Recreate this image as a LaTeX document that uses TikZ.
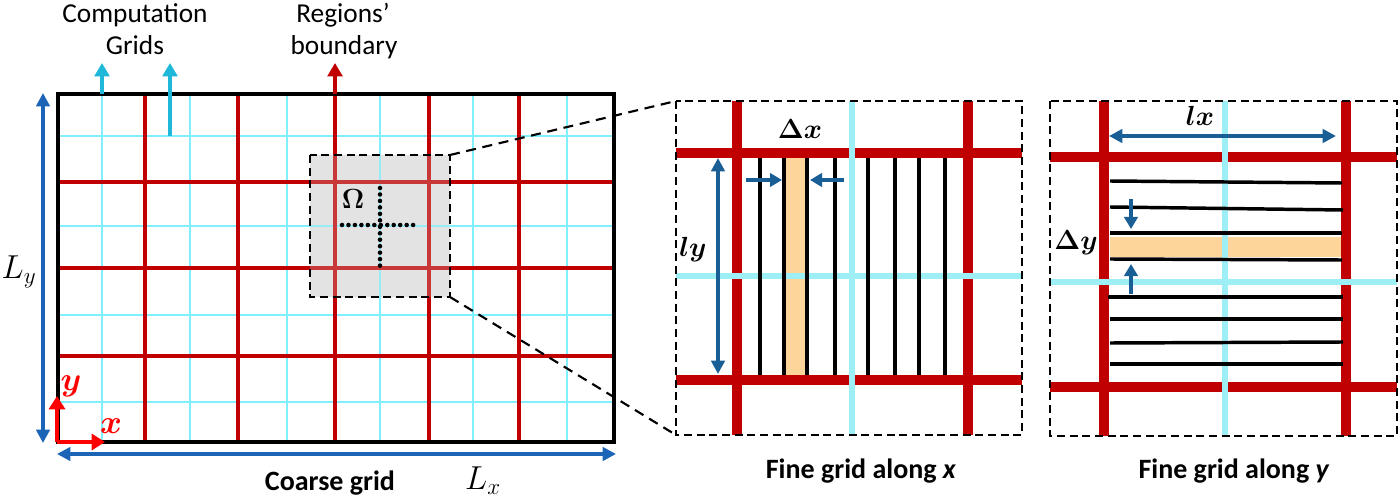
\documentclass[tikz,border=0pt]{standalone}
\usepackage{amsmath,bm}
\usepackage[no-math]{fontspec}
\setmainfont{Carlito}
\usetikzlibrary{arrows.meta}
\definecolor{cred}{HTML}{C00000}
\definecolor{ccyan}{HTML}{80F0FF}
\definecolor{fcyanc}{HTML}{9EEEF6}
\definecolor{darkcyan}{HTML}{1FB8D8}
\definecolor{lblue}{HTML}{1B64B6}
\definecolor{dblue}{HTML}{1A5E96}
\definecolor{orng}{HTML}{FDD59A}
\definecolor{axred}{HTML}{FF0000}
\definecolor{greybox}{HTML}{E3E3E3}
\begin{document}
\begin{tikzpicture}[x=0.75pt,y=-0.75pt,
  redgrid/.style={draw=cred,line width=3.3pt},
  cyangrid/.style={draw=ccyan,line width=2.1pt},
  fred/.style={draw=cred,line width=8pt},
  fcyan/.style={draw=fcyanc,line width=4.8pt},
  fblack/.style={draw=black,line width=2.6pt},
  panelbox/.style={draw=black,line width=1.6pt,dash pattern=on 6pt off 3.5pt},
  zoomline/.style={draw=black,line width=1.6pt,dash pattern=on 7.5pt off 5pt},
  bigarrow/.style={draw=lblue,line width=2.6pt,{Triangle[length=10pt,width=10pt]}-{Triangle[length=10pt,width=10pt]}},
  smallarrow/.style={draw=dblue,line width=2.8pt,-{Triangle[length=9pt,width=10pt]}},
  dblarrow/.style={draw=dblue,line width=2.6pt,{Triangle[length=10pt,width=10pt]}-{Triangle[length=10pt,width=10pt]}},
  uparrow/.style={line width=2.8pt,-{Triangle[length=10pt,width=11pt]}},
  axarrow/.style={draw=axred,line width=3.4pt,-{Triangle[length=10pt,width=12pt]}},
  lbl/.style={font=\fontsize{20.5}{24}\selectfont,inner sep=0pt},
  blbl/.style={font=\fontsize{21}{24}\selectfont\bfseries,inner sep=0pt},
  mlbl/.style={font=\fontsize{23}{26}\selectfont,inner sep=0pt},
  blbm/.style={font=\fontsize{21}{24}\selectfont,inner sep=0pt}]
\useasboundingbox (0,0) rectangle (1400,499);

% ---------------- coarse grid ----------------
\fill[greybox] (310,155) rectangle (450,297);
\foreach \x in {102,190,287,380,473,567} \draw[cyangrid] (\x,94) -- (\x,442);
\foreach \y in {136,226,315,402} \draw[cyangrid] (58,\y) -- (614,\y);
\foreach \x in {145,238,335,429,519} \draw[redgrid] (\x,94) -- (\x,442);
\foreach \y in {182,268,356} \draw[redgrid] (58,\y) -- (614,\y);
\fill[greybox,opacity=0.25] (310,155) rectangle (450,297);
% dotted cross
\draw[line width=3.4pt,line cap=round,dash pattern=on 0pt off 4.85pt] (380,188) -- (380,266);
\draw[line width=3.4pt,line cap=round,dash pattern=on 0pt off 4.85pt] (342,225) -- (418,225);
\node[font=\fontsize{22}{24}\selectfont,inner sep=0pt] (omega) at (353,199) {$\boldsymbol{\Omega}$};
\draw[panelbox,line width=2pt] (310,155) rectangle (450,297);
\coordinate (zTL) at (450,155);
\coordinate (zBL) at (450,297);
% border
\draw[line width=2.7pt] (58,94) rectangle (614,442);

% top arrows
\coordinate (c1s) at (102,94); \coordinate (c1e) at (102,63);
\coordinate (c2s) at (170,136); \coordinate (c2e) at (170,63);
\coordinate (r1s) at (335,94); \coordinate (r1e) at (335,63);
\draw[uparrow,draw=darkcyan,fill=darkcyan] (c1s) -- (c1e);
\draw[uparrow,draw=darkcyan,fill=darkcyan] (c2s) -- (c2e);
\draw[uparrow,draw=cred,fill=cred] (r1s) -- (r1e);
\node[lbl,anchor=base] (comp) at (135,23) {Computation};
\node[lbl,anchor=base] (grids) at (135,55) {Grids};
\node[lbl,anchor=base] (regions) at (343,23) {Regions’};
\node[lbl,anchor=base] (bound) at (344,55) {boundary};

% dimension arrows
\coordinate (lyt) at (43,93); \coordinate (lyb) at (43,443);
\coordinate (lxl) at (57,454); \coordinate (lxr) at (616,454);
\draw[bigarrow,fill=lblue] (lyt) -- (lyb);
\draw[bigarrow,fill=lblue] (lxl) -- (lxr);
\node[mlbl] (Ly) at (19,272) {$L_y$};
\node[mlbl] (Lx) at (483,481) {$L_x$};
\node[blbl,anchor=base] (coarse) at (330,490) {Coarse grid};

% axes
\coordinate (orig) at (57,442);
\coordinate (ay) at (57,396);
\coordinate (ax) at (105,442);
\draw[axarrow,fill=axred] (orig) -- (ay);
\draw[axarrow,fill=axred] (orig) -- (ax);
\node[font=\fontsize{23}{26}\selectfont,text=axred,inner sep=0pt] (ylab) at (71,386) {$\boldsymbol{y}$};
\node[font=\fontsize{23}{26}\selectfont,text=axred,inner sep=0pt] (xlab) at (111,426) {$\boldsymbol{x}$};

% ---------------- fine grid along x ----------------
\coordinate (mTL) at (676,101);
\coordinate (mBL) at (676,435);
\draw[zoomline] (zTL) -- (mTL);
\draw[zoomline] (zBL) -- (mBL);
\fill[orng] (786,158) rectangle (806,376);
\draw[fred] (737,101) -- (737,435);
\draw[fred] (968,101) -- (968,435);
\draw[fred] (676,153) -- (1022,153);
\draw[fred] (676,380) -- (1022,380);
\draw[fcyan] (852,101) -- (852,435);
\draw[fcyan] (676,276) -- (1022,276);
\foreach \x in {760,784,807,835,868,895,919,945} \draw[fblack] (\x,158) -- (\x,375);
\draw[panelbox] (676,101) rectangle (1022,435);
\coordinate (lyt2) at (718,158); \coordinate (lyb2) at (718,374);
\draw[dblarrow,fill=dblue] (lyt2) -- (lyb2);
\node[blbm] (ly) at (693,250) {$\boldsymbol{ly}$};
\coordinate (dxa1) at (746,180); \coordinate (dxa2) at (782,180);
\coordinate (dxb1) at (844,180); \coordinate (dxb2) at (810,180);
\draw[smallarrow,fill=dblue] (dxa1) -- (dxa2);
\draw[smallarrow,fill=dblue] (dxb1) -- (dxb2);
\node[blbm] (dx) at (800,129) {$\boldsymbol{\Delta x}$};
\node[blbl,anchor=base] (fgx) at (861,478) {Fine grid along \textit{x}};

% ---------------- fine grid along y ----------------
\fill[orng] (1110,237) rectangle (1342,257);
\draw[fred] (1104,101) -- (1104,436);
\draw[fred] (1346,101) -- (1346,436);
\draw[fred] (1050,157) -- (1397,157);
\draw[fred] (1050,387) -- (1397,387);
\draw[fcyan] (1225,101) -- (1225,436);
\draw[fcyan] (1050,282) -- (1397,282);
\draw[fblack] (1110,181) -- (1342,183);
\draw[fblack] (1110,207) -- (1343,210);
\draw[fblack] (1110,233) -- (1342,233);
\draw[fblack] (1110,259) -- (1342,260);
\draw[fblack] (1108,297) -- (1343,297);
\draw[fblack] (1110,319) -- (1343,319);
\draw[fblack] (1110,343) -- (1343,342);
\draw[fblack] (1110,364) -- (1343,364);
\draw[panelbox] (1050,101) rectangle (1397,436);
\coordinate (lxl2) at (1109,136); \coordinate (lxr2) at (1336,136);
\draw[dblarrow,fill=dblue] (lxl2) -- (lxr2);
\node[blbm] (lx) at (1200,116) {$\boldsymbol{lx}$};
\coordinate (dya1) at (1131,199); \coordinate (dya2) at (1131,229);
\coordinate (dyb1) at (1131,294); \coordinate (dyb2) at (1131,264);
\draw[smallarrow,fill=dblue] (dya1) -- (dya2);
\draw[smallarrow,fill=dblue] (dyb1) -- (dyb2);
\node[blbm] (dy) at (1076,243) {$\boldsymbol{\Delta y}$};
\node[blbl,anchor=base] (fgy) at (1234,478) {Fine grid along \textit{y}};
\end{tikzpicture}
\end{document}
